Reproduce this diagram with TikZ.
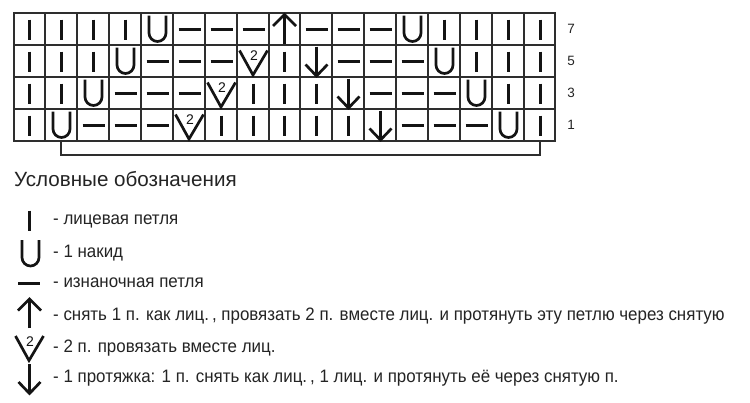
\documentclass[tikz,border=0pt]{standalone}
\usepackage{fontspec}
\setmainfont{Liberation Sans}
\newfontfamily\legfont[FakeStretch=0.94]{Liberation Sans}
\definecolor{gridc}{gray}{0.18}
\definecolor{symc}{gray}{0.08}
\definecolor{textc}{gray}{0.14}
\tikzset{
  gl/.style={line width=2pt, draw=gridc, line cap=rect},
  sym/.style={line width=3pt, draw=symc, line join=miter},
  legtext/.style={anchor=base west, inner sep=0pt, text=textc, font=\legfont\fontsize{18}{20}\selectfont},
  rownum/.style={anchor=center, inner sep=0pt, text=textc, font=\fontsize{13.5}{14}\selectfont},
  twolabel/.style={inner sep=0pt, text=symc, font=\fontsize{14}{15}\selectfont}
}
\newcommand\symK[1]{\begin{scope}[shift={#1}]\draw[sym] (0,-10)--(0,10);\end{scope}}
\newcommand\symU[1]{\begin{scope}[shift={#1}]\draw[sym,line width=2.7pt,line join=round] (-8.5,-14)--(-8.5,3.5) arc[start angle=180,end angle=360,radius=8.5pt] -- (8.5,-14);\end{scope}}
\newcommand\symP[1]{\begin{scope}[shift={#1}]\draw[sym] (-11,0)--(11,0);\end{scope}}
\newcommand\symA[1]{\begin{scope}[shift={#1}]\draw[sym] (0,14)--(0,-14.5); \draw[sym,line width=2.7pt] (-11.5,-3.5)--(0,-15)--(11.5,-3.5);\end{scope}}
\newcommand\symD[1]{\begin{scope}[shift={#1}]\draw[sym] (0,-15)--(0,14); \draw[sym,line width=2.7pt] (-11,3)--(0,14.5)--(11,3);\end{scope}}
\newcommand\symV[1]{\begin{scope}[shift={#1}]\draw[sym,line width=2.7pt] (-14,-11)--(-0.5,13.5)--(14,-11); \node[twolabel] at (0.5,-5.5) {2};\end{scope}}
\begin{document}
\begin{tikzpicture}[x=1pt,y=-1pt]
\useasboundingbox[fill=white] (0,0) rectangle (750,402);
% grid
\foreach \i in {0,...,17} {
  \pgfmathsetmacro\gx{round(13.5+31.88*\i)}
  \draw[gl] (\gx,13) -- (\gx,141);
}
\foreach \j in {0,...,4} {
  \draw[gl] (14,{13+32*\j}) -- (555,{13+32*\j});
}
% symbols
\foreach \rowlist [count=\r from 0] in {
  {K,K,K,K,U,P,P,P,A,P,P,P,U,K,K,K,K},
  {K,K,K,U,P,P,P,V,K,D,P,P,P,U,K,K,K},
  {K,K,U,P,P,P,V,K,K,K,D,P,P,P,U,K,K},
  {K,U,P,P,P,V,K,K,K,K,K,D,P,P,P,U,K}} {
  \foreach \s [count=\c from 0] in \rowlist {
    \pgfmathsetmacro\cx{round(13.5+31.88*(\c+0.5))+0.5}
    \pgfmathsetmacro\cy{13.5+32*(\r+0.5)}
    \csname sym\s\endcsname{(\cx,\cy)}
  }
}
% bracket
\coordinate (bl) at (61,141);
\coordinate (br) at (540,141);
\draw[gl, line cap=butt] (bl) -- ++(0,14) -| (br);
% row numbers
\node[rownum] (r7) at (571,29) {7};
\node[rownum] (r5) at (571,61) {5};
\node[rownum] (r3) at (571,93) {3};
\node[rownum] (r1) at (571,125) {1};
% legend title
\node[anchor=base west, inner sep=0pt, text=textc, font=\fontsize{20.6}{22}\selectfont] (title) at (14,186) {Условные обозначения};
% legend symbols
\symK{(29.5,220.5)}
\symU{(30.5,254)}
\symP{(29,283.5)}
\symA{(29.5,314)}
\symV{(29.5,347)}
\symD{(29.5,379)}
% legend texts
\node[legtext] (t1) at (53,224) {- лицевая петля};
\node[legtext] (t2) at (53,257) {- 1 накид};
\node[legtext] (t3) at (53,287) {- изнаночная петля};
\node[legtext] (t4) at (53,320) {- снять 1 п. как лиц.\,, провязать 2 п. вместе лиц. и протянуть эту петлю через снятую};
\node[legtext] (t5) at (53,352) {- 2 п. провязать вместе лиц.};
\node[legtext] (t6) at (53,382) {- 1 протяжка: 1 п. снять как лиц.\,, 1 лиц. и протянуть её через снятую п.};
\end{tikzpicture}
\end{document}
